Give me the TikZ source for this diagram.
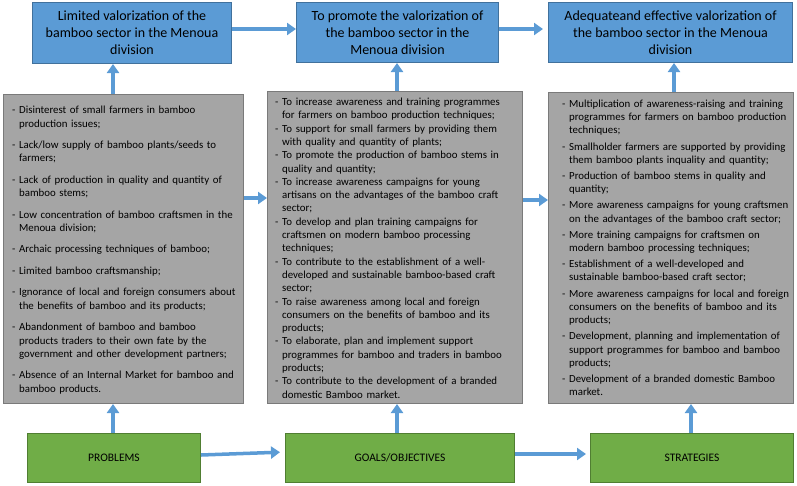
\documentclass[tikz,border=0pt]{standalone}
\usepackage{fontspec}
\setmainfont{Carlito}
\usetikzlibrary{arrows.meta}
\definecolor{bfill}{HTML}{5B9BD5}
\definecolor{bdraw}{HTML}{41719C}
\definecolor{gfill}{HTML}{A5A5A5}
\definecolor{gdraw}{HTML}{7A7A7A}
\definecolor{nfill}{HTML}{70AD47}
\definecolor{ndraw}{HTML}{507E32}
\definecolor{arr}{HTML}{5B9BD5}
\newlength\dashw
\newcommand\bitem[1]{\par\noindent\hangindent=\dashw\hangafter=1 \makebox[\dashw][l]{-}#1}
\newcommand\listsetup[1]{\settowidth\dashw{-\ }\setlength\parskip{#1}\raggedright}
\tikzset{
  bluebox/.style={draw=bdraw, fill=bfill, line width=1pt, align=center, anchor=north west,
    font=\fontsize{14}{17}\selectfont, inner sep=0pt},
  graybox/.style={draw=gdraw, fill=gfill, line width=1pt, anchor=north west, inner sep=0pt},
  greenbox/.style={draw=ndraw, fill=nfill, line width=1pt, anchor=north west, inner sep=0pt,
    font=\fontsize{11.5}{13}\selectfont},
  listtext/.style={anchor=north west, inner sep=0pt, text width=#1,
    font=\fontsize{10.85}{13.3}\selectfont},
  flowarrow/.style={draw=arr, line width=3.5pt, -{Triangle[length=9pt,width=12pt]}},
}
\begin{document}
\begin{tikzpicture}[x=1pt,y=-1pt]
\useasboundingbox (0,0) rectangle (797,485);
% top blue boxes
\node[bluebox, minimum width=199pt, minimum height=61pt] (b1) at (32,2)
  {Limited valorization of the\\bamboo sector in the Menoua\\division};
\node[bluebox, minimum width=202pt, minimum height=60pt] (b2) at (296,2)
  {To promote the valorization of\\the bamboo sector in the\\Menoua division};
\node[bluebox, minimum width=244pt, minimum height=60pt] (b3) at (548,2)
  {Adequateand effective valorization of\\the bamboo sector in the Menoua\\division};
% gray boxes
\node[graybox, minimum width=240pt, minimum height=309pt] (g1) at (3,94) {};
\node[graybox, minimum width=255pt, minimum height=312pt] (g2) at (267,91) {};
\node[graybox, minimum width=245pt, minimum height=311pt] (g3) at (548,92) {};
\node[listtext=235pt] (t1) at (12,92) {\listsetup{8.2pt}%
\bitem{Disinterest of small farmers in bamboo\newline production issues;}
\bitem{Lack/low supply of bamboo plants/seeds to\newline farmers;}
\bitem{Lack of production in quality and quantity of\newline bamboo stems;}
\bitem{Low concentration of bamboo craftsmen in the\newline Menoua division;}
\bitem{Archaic processing techniques of bamboo;}
\bitem{Limited bamboo craftsmanship;}
\bitem{Ignorance of local and foreign consumers about\newline the benefits of bamboo and its products;}
\bitem{Abandonment of bamboo and bamboo\newline products traders to their own fate by the\newline government and other development partners;}
\bitem{Absence of an Internal Market for bamboo and\newline bamboo products.}\par};
\node[listtext=250pt] (t2) at (275,92) {\listsetup{0pt}%
\bitem{To increase awareness and training programmes\newline for farmers on bamboo production techniques;}
\bitem{To support for small farmers by providing them\newline with quality and quantity of plants;}
\bitem{To promote the production of bamboo stems in\newline quality and quantity;}
\bitem{To increase awareness campaigns for young\newline artisans on the advantages of the bamboo craft\newline sector;}
\bitem{To develop and plan training campaigns for\newline craftsmen on modern bamboo processing\newline techniques;}
\bitem{To contribute to the establishment of a well-\newline developed and sustainable bamboo-based craft\newline sector;}
\bitem{To raise awareness among local and foreign\newline consumers on the benefits of bamboo and its\newline products;}
\bitem{To elaborate, plan and implement support\newline programmes for bamboo and traders in bamboo\newline products;}
\bitem{To contribute to the development of a branded\newline domestic Bamboo market.}\par};
\node[listtext=235pt] (t3) at (562,91) {\listsetup{2.8pt}%
\bitem{Multiplication of awareness-raising and training\newline programmes for farmers on bamboo production\newline techniques;}
\bitem{Smallholder farmers are supported by providing\newline them bamboo plants inquality and quantity;}
\bitem{Production of bamboo stems in quality and\newline quantity;}
\bitem{More awareness campaigns for young craftsmen\newline on the advantages of the bamboo craft sector;}
\bitem{More training campaigns for craftsmen on\newline modern bamboo processing techniques;}
\bitem{Establishment of a well-developed and\newline sustainable bamboo-based craft sector;}
\bitem{More awareness campaigns for local and foreign\newline consumers on the benefits of bamboo and its\newline products;}
\bitem{Development, planning and implementation of\newline support programmes for bamboo and bamboo\newline products;}
\bitem{Development of a branded domestic Bamboo\newline market.}\par};
% green boxes
\node[greenbox, minimum width=173pt, minimum height=49pt] (n1) at (27,433) {PROBLEMS};
\node[greenbox, minimum width=229pt, minimum height=49pt] (n2) at (285,433) {GOALS/OBJECTIVES};
\node[greenbox, minimum width=203pt, minimum height=49pt] (n3) at (590,433) {STRATEGIES};
% arrows
\draw[flowarrow] (b1.east |- 0,29) -- (b2.west |- 0,29);
\draw[flowarrow, shorten >=5pt] (b2.east |- 0,29) -- (b3.west |- 0,29);
\draw[flowarrow] (g1.north -| 113,0) -- (b1.south -| 113,0);
\draw[flowarrow] (g2.north -| 397,0) -- (b2.south -| 397,0);
\draw[flowarrow] (g3.north -| 674,0) -- (b3.south -| 674,0);
\draw[flowarrow] (g1.east |- 0,198) -- (g2.west |- 0,198);
\draw[flowarrow] (g2.east |- 0,200) -- (g3.west |- 0,200);
\draw[flowarrow] (n1.north -| 113,0) -- (g1.south -| 113,0);
\draw[flowarrow] (n2.north -| 397,0) -- (g2.south -| 397,0);
\draw[flowarrow] (n3.north -| 691,0) -- (g3.south -| 691,0);
\draw[flowarrow, shorten >=5pt] (n1.east |- 0,455) -- (n2.west |- 0,452);
\draw[flowarrow, shorten >=4pt] (n2.east |- 0,454) -- (n3.west |- 0,454);
\end{tikzpicture}
\end{document}
